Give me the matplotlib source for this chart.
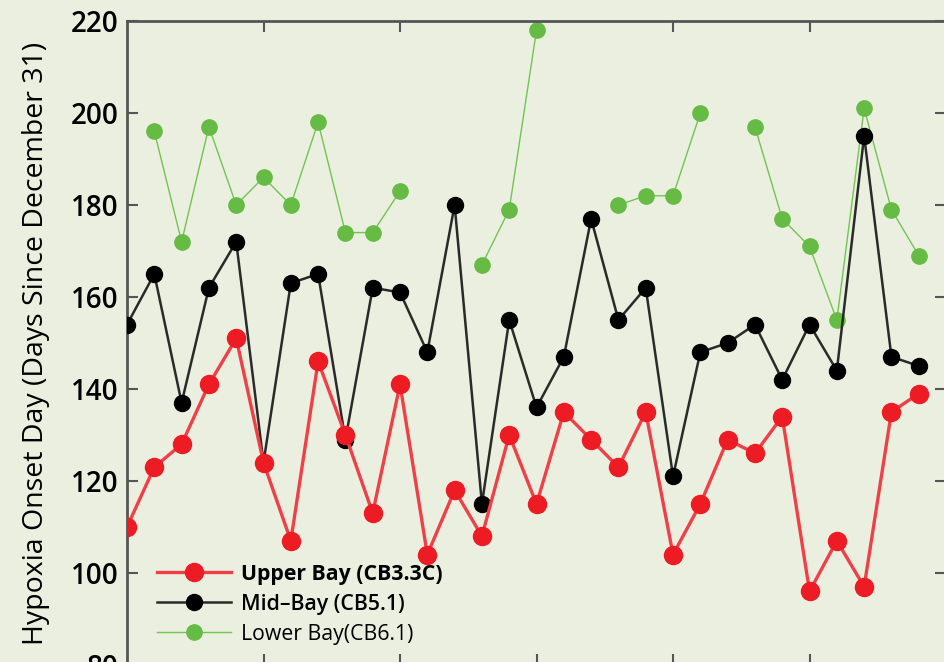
import numpy as np
from matplotlib import pyplot as plt

years = np.arange(1985, 2015)

upper_bay = [110, 123, 128, 141, 151, 124, 107, 146, 130, 113,
             141, 104, 118, 108, 130, 115, 135, 129, 123, 135,
             104, 115, 129, 126, 134, 96, 107, 97, 135, 139]
mid_bay = [154, 165, 137, 162, 172, 124, 163, 165, 129, 162,
           161, 148, 180, 115, 155, 136, 147, 177, 155, 162,
           121, 148, 150, 154, 142, 154, 144, 195, 147, 145]
# nan = no hypoxia onset recorded that year
lower_bay = [np.nan, 196, 172, 197, 180, 186, 180, 198, 174, 174,
             183, np.nan, np.nan, 167, 179, 218, np.nan, np.nan, 180, 182,
             182, 200, np.nan, 197, 177, 171, 155, 201, 179, 169]

labels = ["Upper Bay (CB3.3C)", "Mid\u2013Bay (CB5.1)", "Lower Bay(CB6.1)"]
yticks = [80, 100, 120, 140, 160, 180, 200, 220]
xticks = [1990, 1995, 2000, 2005, 2010]

bg = "#ebefe0"
plt.rcParams['font.family'] = ['Open Sans', 'DejaVu Sans']

fig = plt.figure(figsize=(9.45, 6.62), dpi=100, facecolor=bg)
ax = fig.add_axes([0.1344, -0.0045, 0.8667, 0.9728], facecolor=bg)

ax.plot(years, lower_bay, color="#72c452", lw=1, marker='o', ms=11,
        mfc="#66bb44", mec="#66bb44", label=labels[2], zorder=2)
ax.plot(years, mid_bay, color="#2a2a2a", lw=1.8, marker='o', ms=11.5,
        mfc="black", mec="black", label=labels[1], zorder=3)
ax.plot(years, upper_bay, color="#ef4048", lw=2.4, marker='o', ms=13,
        mfc="#ed1c24", mec="#ed1c24", label=labels[0], zorder=4)

ax.set_xlim(1985, 2015)
ax.set_ylim(80, 220)
ax.set_yticks(yticks)
ax.set_xticks(xticks)
ax.set_xticklabels([])
for s in ax.spines.values():
    s.set_color("#555555")
    s.set_linewidth(2)
ax.tick_params(axis='both', direction='in', top=True, right=True,
               length=8, width=1.5, color="#555555")
ax.tick_params(axis='y', labelsize=20, pad=6)
for t in ax.get_yticklabels():
    t.set_fontweight('semibold')
ax.set_ylabel("Hypoxia Onset Day (Days Since December 31)", fontsize=20.5, labelpad=15)

handles, labs = ax.get_legend_handles_labels()
leg = ax.legend(handles[::-1], labs[::-1], loc='lower left',
                bbox_to_anchor=(0.013, 0.002), frameon=False, fontsize=15.3,
                handlelength=3.5, handletextpad=0.45, labelspacing=0.42)
weights = ['bold', 'semibold', 'normal']
for t, w in zip(leg.get_texts(), weights):
    t.set_fontweight(w)

fig.savefig("out.png", dpi=100, facecolor=bg)
